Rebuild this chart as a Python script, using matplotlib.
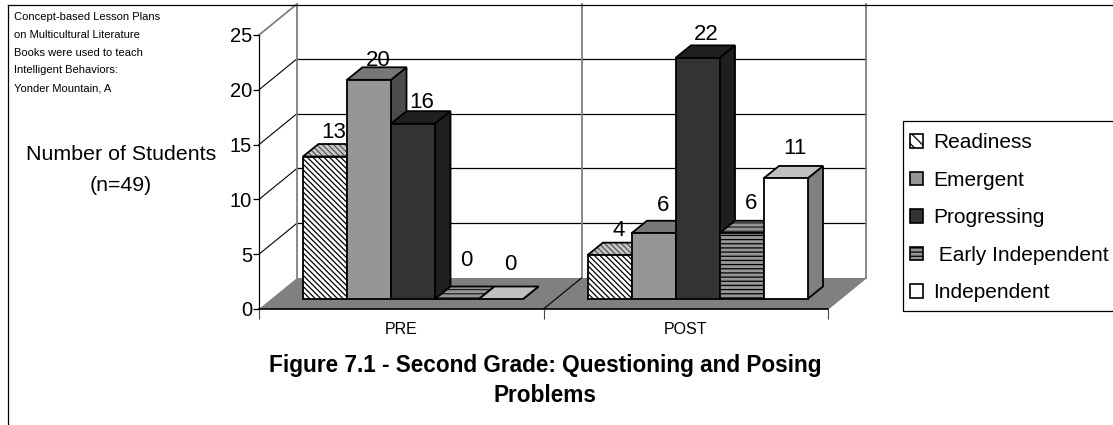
import matplotlib
matplotlib.use("Agg")
import matplotlib.pyplot as plt
from matplotlib.patches import Patch, Polygon, Rectangle

categories = ["PRE", "POST"]
series_names = ["Readiness", "Emergent", "Progressing", " Early Independent", "Independent"]
pre_values = [13, 20, 16, 0, 0]
post_values = [4, 6, 22, 6, 11]
y_ticks = [0, 5, 10, 15, 20, 25]

note_lines = [
    "Concept-based Lesson Plans",
    "on Multicultural Literature",
    "Books were used to teach",
    "Intelligent Behaviors:",
    "Yonder Mountain, A",
]
y_title = "Number of Students\n(n=49)"
chart_title = "Figure 7.1 - Second Grade: Questioning and Posing\nProblems"

W, H = 1113, 425
plt.rcParams["font.family"] = ["Liberation Sans", "DejaVu Sans"]
plt.rcParams["hatch.linewidth"] = 0.9

fig = plt.figure(figsize=(W / 100, H / 100), dpi=100)

# axes: x in categories, y in students, front plane of the box
left, right, bottom, top = 259, 828, 309, 35
ax = fig.add_axes([left / W, 1 - bottom / H, (right - left) / W, (bottom - top) / H])
ax.set_xlim(0, 2)
ax.set_ylim(0, 25)
ax.patch.set_visible(False)

px = 2 / (right - left)
py = 25 / (bottom - top)
box_dx, box_dy = 38 * px, 31 * py
bar_dx, bar_dy = 15.5 * px, 12.5 * py
gap_dx, gap_dy = 11 * px, 10 * py
bar_w = 44 * px
group_start = 0.116

# floor
ax.add_patch(Polygon([(0, 0), (2, 0), (2 + box_dx, box_dy), (box_dx, box_dy)],
                     fc="#808080", ec="none", zorder=1, clip_on=False))
ax.plot([0, 2], [0, 0], color="black", lw=1.2, zorder=1.5, clip_on=False)

# walls and gridlines
for v in y_ticks[1:-1]:
    ax.plot([box_dx, 2 + box_dx], [v + box_dy, v + box_dy], color="black", lw=0.9, zorder=0.5, clip_on=False)
    ax.plot([0, box_dx], [v, v + box_dy], color="black", lw=0.8, zorder=0.5, clip_on=False)
for c in [0, 1, 2]:
    ax.plot([c + box_dx] * 2, [box_dy, 25 + box_dy], color="#808080", lw=1.3, zorder=0.6, clip_on=False)
ax.plot([0, box_dx], [25, 25 + box_dy], color="#808080", lw=1.3, zorder=0.6, clip_on=False)
ax.plot([2, 2 + box_dx], [0, box_dy], color="#808080", lw=1, zorder=0.6, clip_on=False)
ax.plot([1, 1 + box_dx], [0, box_dy], color="black", lw=0.8, zorder=1.2, clip_on=False)

# front, top, side colours and hatching for each series
fronts = ["white", "#969696", "#333333", "#969696", "white"]
tops = ["#c8c8c8", "#777777", "#1f1f1f", "#969696", "#c0c0c0"]
sides = ["#777777", "#4b4b4b", "#1f1f1f", "#4b4b4b", "#808080"]
hatches = ["\\\\\\\\\\\\", None, None, "----", None]
top_hatch_colors = ["#555555", "black", "black", "#222222", "black"]

all_values = [pre_values, post_values]
label_offsets = [[1.5, -3.5, -1.5, 15.5, 11.5], [1.5, 4.5, 0.5, 6.5, 6.5]]

for c, values in enumerate(all_values):
    for s, v in enumerate(values):
        x0 = c + group_start + s * bar_w + gap_dx
        y0 = gap_dy
        z = 2 + c * 10 + s
        if v > 0:
            ax.bar(x0, v, width=bar_w, bottom=y0, align="edge", color=fronts[s], hatch=hatches[s],
                   edgecolor="black", linewidth=1.3, zorder=z + 0.3, clip_on=False)
        x1 = x0 + bar_w
        y1 = y0 + v
        ax.add_patch(Polygon([(x1, y0), (x1 + bar_dx, y0 + bar_dy), (x1 + bar_dx, y1 + bar_dy), (x1, y1)],
                             fc=sides[s], ec="black", lw=1.3, zorder=z + 0.1, clip_on=False))
        top_face = [(x0, y1), (x1, y1), (x1 + bar_dx, y1 + bar_dy), (x0 + bar_dx, y1 + bar_dy)]
        ax.add_patch(Polygon(top_face, fc=tops[s], ec=top_hatch_colors[s], lw=0, hatch=hatches[s],
                             zorder=z + 0.2, clip_on=False))
        ax.add_patch(Polygon(top_face, fill=False, ec="black", lw=1.3, zorder=z + 0.25, clip_on=False))
        ax.annotate(str(v), (x0 + bar_w / 2 + bar_dx / 2, y1 + bar_dy), xytext=(1, label_offsets[c][s] * 0.72),
                    textcoords="offset points", ha="center", va="bottom", fontsize=16, zorder=50,
                    annotation_clip=False)

# axes styling
for name in ["top", "right"]:
    ax.spines[name].set_visible(False)
ax.spines["left"].set_linewidth(0.9)
ax.spines["bottom"].set_visible(False)
ax.set_yticks(y_ticks)
ax.set_xticks([0, 1, 2])
ax.set_xticklabels([])
ax.set_xticks([0.5, 1.5], minor=True)
ax.set_xticklabels(categories, minor=True, fontsize=11.5)
ax.tick_params(axis="x", which="major", length=7, width=0.8, color="#444444")
ax.tick_params(axis="x", which="minor", length=0, pad=9)
ax.tick_params(axis="y", length=4, width=0.9, pad=1, labelsize=14.5)

# legend box runs past the right edge of the picture as in the source
fig.add_artist(Rectangle((903 / W, 1 - 311 / H), 300 / W, 190 / H, transform=fig.transFigure,
                         fill=False, ec="black", lw=0.9))
handles = [
    Patch(fc=fronts[i], ec="black", lw=1.2, hatch=hatches[i] and "\\\\\\" if i == 0 else hatches[i])
    for i in range(5)
]
leg = fig.legend(handles, series_names, loc="upper left", bbox_to_anchor=(900.6 / W, 1 - 124 / H),
                 bbox_transform=fig.transFigure, fontsize=15, frameon=False,
                 borderaxespad=0, borderpad=0.45,
                 labelspacing=0.885, handlelength=0.62, handleheight=0.62, handletextpad=0.48)

# text outside the plot
for i, line in enumerate(note_lines):
    fig.text(14 / W, 1 - (17 + i * 17.8) / H, line, fontsize=8, ha="left", va="center")
fig.text(121 / W, 1 - 170 / H, y_title, fontsize=15.4, ha="center", va="center", linespacing=1.85)
fig.text(545 / W, 1 - 380.5 / H, chart_title, fontsize=16.3, fontweight="bold", ha="center", va="center",
         linespacing=1.42)

# outer frame, cut off on the right and bottom
fig.add_artist(plt.Line2D([8 / W, 8 / W], [0, 1 - 5 / H], color="black", lw=0.9))
fig.add_artist(plt.Line2D([8 / W, 1], [1 - 5 / H, 1 - 5 / H], color="black", lw=0.9))

fig.savefig("out.png", dpi=100)
plt.close(fig)
